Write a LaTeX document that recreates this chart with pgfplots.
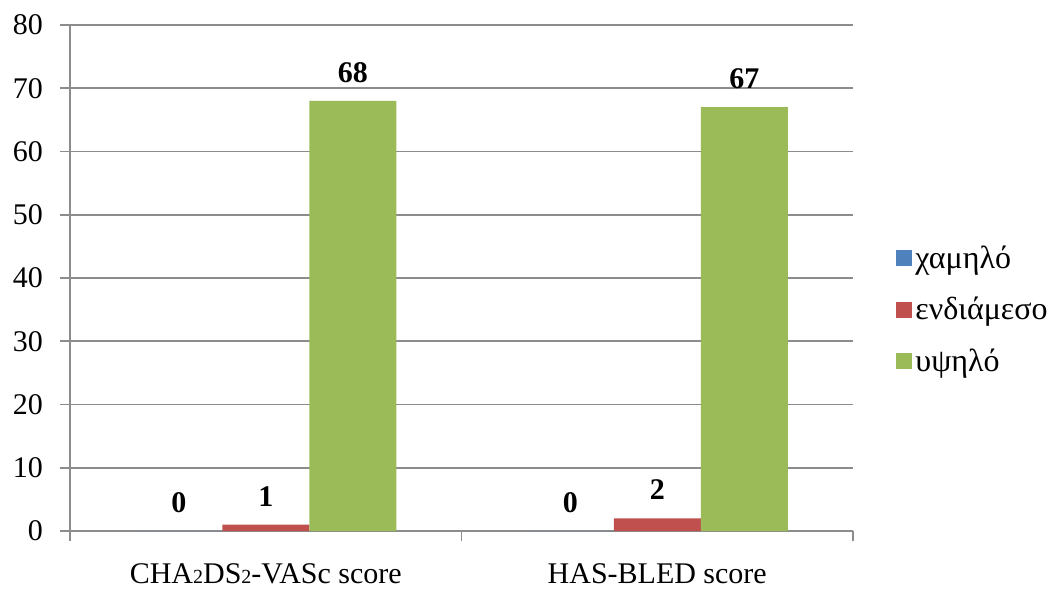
\documentclass[border=0pt]{standalone}
\usepackage{fontspec}
\setmainfont{Liberation Serif}
\usepackage{pgfplots}
\pgfplotsset{compat=1.18}
\definecolor{bblue}{HTML}{4F81BD}
\definecolor{bred}{HTML}{C0504D}
\definecolor{bgreen}{HTML}{9BBB59}
\definecolor{gridgray}{HTML}{8C8C8C}
\newcommand\lbl{\fontsize{15pt}{18pt}\selectfont}
\newcommand\sub[1]{{\fontsize{10pt}{10pt}\selectfont #1}}

\begin{document}
\begin{tikzpicture}
\path[use as bounding box] (-35pt,-30pt) rectangle (492pt,265.5pt);
\begin{axis}[
    at={(0,0)}, anchor=south west,
    scale only axis,
    width=391.5pt, height=253pt,
    ybar=0pt, bar width=43.5pt,
    xmin=-0.5, xmax=1.5, ymin=0, ymax=80,
    ytick={0,10,...,80},
    xtick={-0.5,0.5,1.5}, xticklabels=\empty,
    extra x ticks={0,1},
    extra x tick labels={CHA\sub{2}DS\sub{2}-VASc score, HAS-BLED score},
    extra x tick style={major tick length=0pt, grid=none,
        xticklabel style={yshift=-13pt}},
    yticklabel style={xshift=-5pt},
    axis lines*=left,
    axis line style={draw=gridgray, line width=0.9pt},
    tick style={draw=gridgray, line width=0.9pt},
    tick align=outside, major tick length=5pt,
    ymajorgrids, grid style={draw=gridgray, line width=0.9pt},
    tick label style={font=\lbl},
    /pgf/number format/assume math mode=true,
    nodes near coords,
    every node near coord/.append style={font=\lbl\bfseries, anchor=south, inner sep=0pt, yshift=9pt},
    legend style={draw=none, fill=none, at={(1.055,0.437)}, anchor=west, inner sep=0pt,
        font=\fontsize{16pt}{19pt}\selectfont, row sep=13pt, nodes={inner xsep=1.5pt, inner ysep=0pt}},
    legend cell align=left,
    legend image code/.code={\fill[#1] (0pt,-4pt) rectangle (8pt,4pt);},
]
\addplot[draw=none, fill=bblue] coordinates {(0,0) (1,0)};
\addplot[draw=none, fill=bred] coordinates {(0,1) (1,2)};
\addplot[draw=none, fill=bgreen] coordinates {(0,68) (1,67)};
\legend{χαμηλό, ενδιάμεσο, υψηλό}
\end{axis}
\end{tikzpicture}
\end{document}
